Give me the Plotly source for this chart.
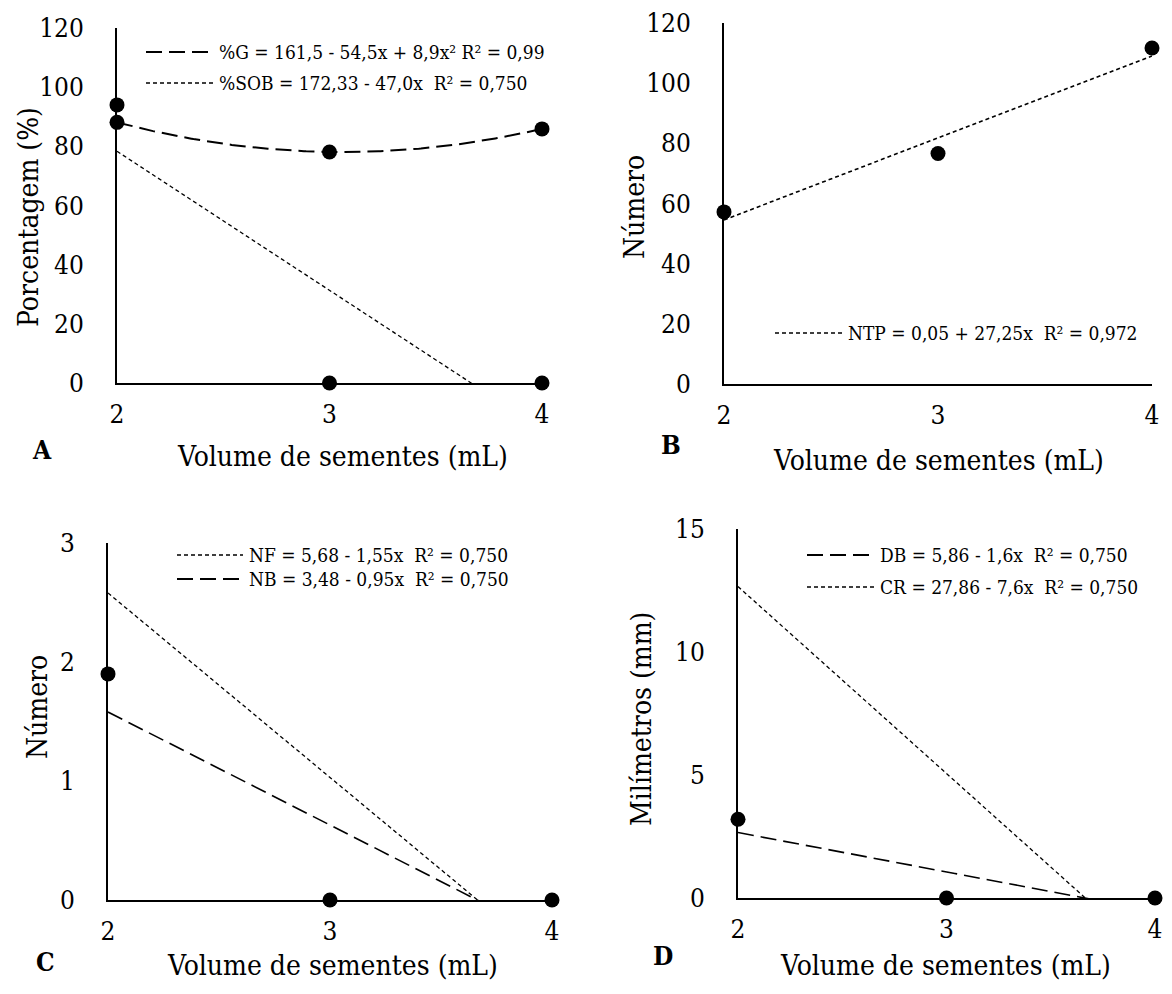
import numpy as np
import plotly.graph_objects as go

# page body has an 8px margin: figure is sized to fit the 1172x994 window
OFF = 8
W, H = 1172 - OFF, 994 - OFF

# ---------------- data ----------------
x_vol = [2, 3, 4]
x_ticks = [2, 3, 4]

# Panel A
G_pct = [88.1, 78.1, 85.9]
SOB_pct = [94, 0, 0]
G_coef = [161.5, -54.5, 8.9]
SOB_coef = [172.33, -47.0]
A_yticks = [0, 20, 40, 60, 80, 100, 120]

# Panel B
NTP_num = [57.2, 76.6, 111.7]
NTP_coef = [0.05, 27.25]
B_yticks = [0, 20, 40, 60, 80, 100, 120]

# Panel C
NB_num = [1.9, 0, 0]
NF_coef = [5.68, -1.55]
NB_coef = [3.48, -0.95]
C_yticks = [0, 1, 2, 3]

# Panel D
DB_mm = [3.2, 0, 0]
DB_coef = [5.86, -1.6]
CR_coef = [27.86, -7.6]
D_yticks = [0, 5, 10, 15]

leg_A = ["%G = 161,5 - 54,5x + 8,9x² R² = 0,99", "%SOB = 172,33 - 47,0x \u00a0R² = 0,750"]
leg_B = ["NTP = 0,05 + 27,25x \u00a0R² = 0,972"]
leg_C = ["NF = 5,68 - 1,55x \u00a0R² = 0,750", "NB = 3,48 - 0,95x \u00a0R² = 0,750"]
leg_D = ["DB = 5,86 - 1,6x \u00a0R² = 0,750", "CR = 27,86 - 7,6x \u00a0R² = 0,750"]

x_title = "Volume de sementes (mL)"
FONT = "DejaVu Serif Condensed, DejaVu Serif"
TICK_SIZE = 26
TITLE_SIZE = 28
LEG_SIZE = 19
LETTER_SIZE = 26
LONG = "16px,7px"
SHORT = "4px,3px"


def fx(p):
    return (p - OFF) / W


def fy(p):
    return 1 - (p - OFF) / H


def poly(coef, xs):
    return [sum(c * x ** i for i, c in enumerate(coef)) for x in xs]


xs = list(np.linspace(2, 4, 201))

# panel pixel boxes in window coordinates: (left, right, top, bottom)
boxes = {
    1: (117, 542, 28, 383),
    2: (724, 1152, 23, 384),
    3: (108, 552, 543, 900),
    4: (738, 1155, 529, 898),
}
yranges = {1: [0, 120], 2: [0, 120], 3: [0, 3], 4: [0, 15]}
yticks = {1: A_yticks, 2: B_yticks, 3: C_yticks, 4: D_yticks}

fig = go.Figure()


def add_line(k, coef, dash, width):
    sfx = "" if k == 1 else str(k)
    fig.add_trace(go.Scatter(x=xs, y=poly(coef, xs), mode="lines",
                             line=dict(color="black", width=width, dash=dash),
                             xaxis="x" + sfx, yaxis="y" + sfx, showlegend=False,
                             hoverinfo="skip"))


def add_pts(k, ys):
    sfx = "" if k == 1 else str(k)
    fig.add_trace(go.Scatter(x=x_vol, y=ys, mode="markers",
                             marker=dict(color="black", size=15),
                             xaxis="x" + sfx, yaxis="y" + sfx, showlegend=False,
                             cliponaxis=False))


add_line(1, G_coef, LONG, 2)
add_line(1, SOB_coef, SHORT, 1.3)
add_pts(1, G_pct)
add_pts(1, SOB_pct)
add_line(2, NTP_coef, SHORT, 1.6)
add_pts(2, NTP_num)
add_line(3, NF_coef, SHORT, 1.3)
add_line(3, NB_coef, LONG, 1.6)
add_pts(3, NB_num)
add_line(4, DB_coef, LONG, 1.6)
add_line(4, CR_coef, SHORT, 1.3)
add_pts(4, DB_mm)

layout = dict(
    template="none",
    width=W, height=H,
    margin=dict(l=0, r=0, t=0, b=0, autoexpand=False),
    paper_bgcolor="white", plot_bgcolor="white",
    font=dict(family=FONT, color="black"),
    showlegend=False,
)

for k, (l, r, t, b) in boxes.items():
    sfx = "" if k == 1 else str(k)
    layout["xaxis" + sfx] = dict(
        domain=[fx(l), fx(r)], range=[2, 4], anchor="y" + sfx, automargin=False,
        tickvals=x_ticks, showline=True, linecolor="black", linewidth=2,
        showgrid=False, zeroline=False, ticks="outside", ticklen=7,
        tickcolor="rgba(0,0,0,0)", tickfont=dict(family=FONT, size=TICK_SIZE, color="black"),
    )
    layout["yaxis" + sfx] = dict(
        domain=[fy(b), fy(t)], range=yranges[k], anchor="x" + sfx, automargin=False,
        tickvals=yticks[k], showline=True, linecolor="black", linewidth=2,
        showgrid=False, zeroline=False, ticks="outside", ticklen=26,
        tickcolor="rgba(0,0,0,0)", tickfont=dict(family=FONT, size=TICK_SIZE, color="black"),
    )

fig.update_layout(**layout)

annotations = []
shapes = []


def text(x, y, s, size, angle=0, bold=False, anchor="center"):
    annotations.append(dict(
        x=fx(x), y=fy(y), xref="paper", yref="paper", text=("<b>%s</b>" % s) if bold else s,
        showarrow=False, xanchor=anchor, yanchor="middle", textangle=angle,
        font=dict(family=FONT, size=size, color="black")))


def legend_row(x0, x1, y, dash, label):
    shapes.append(dict(type="line", xref="paper", yref="paper",
                       x0=fx(x0), x1=fx(x1), y0=fy(y), y1=fy(y),
                       line=dict(color="black", width=2 if dash == LONG else 1.6, dash=dash)))
    text(x1 + 4, y, label, LEG_SIZE, anchor="left")


text(342, 456, x_title, TITLE_SIZE)
text(938, 461, x_title, TITLE_SIZE)
text(332, 965, x_title, TITLE_SIZE)
text(945, 965, x_title, TITLE_SIZE)
text(28, 217, "Porcentagem (%)", TITLE_SIZE, angle=-90)
text(634, 207, "Número", TITLE_SIZE, angle=-90)
text(37, 707, "Número", TITLE_SIZE, angle=-90)
text(641, 719, "Milímetros (mm)", TITLE_SIZE, angle=-90)

text(42, 450, "A", LETTER_SIZE, bold=True)
text(671, 445, "B", LETTER_SIZE, bold=True)
text(45, 962, "C", LETTER_SIZE, bold=True)
text(663, 956, "D", LETTER_SIZE, bold=True)

legend_row(146, 213, 52, LONG, leg_A[0])
legend_row(146, 213, 83, SHORT, leg_A[1])
legend_row(775, 842, 333, SHORT, leg_B[0])
legend_row(177, 243, 555, SHORT, leg_C[0])
legend_row(177, 243, 579, LONG, leg_C[1])
legend_row(807, 874, 555, LONG, leg_D[0])
legend_row(807, 874, 587, SHORT, leg_D[1])

fig.update_layout(annotations=annotations, shapes=shapes)

fig.write_html("out.html")
